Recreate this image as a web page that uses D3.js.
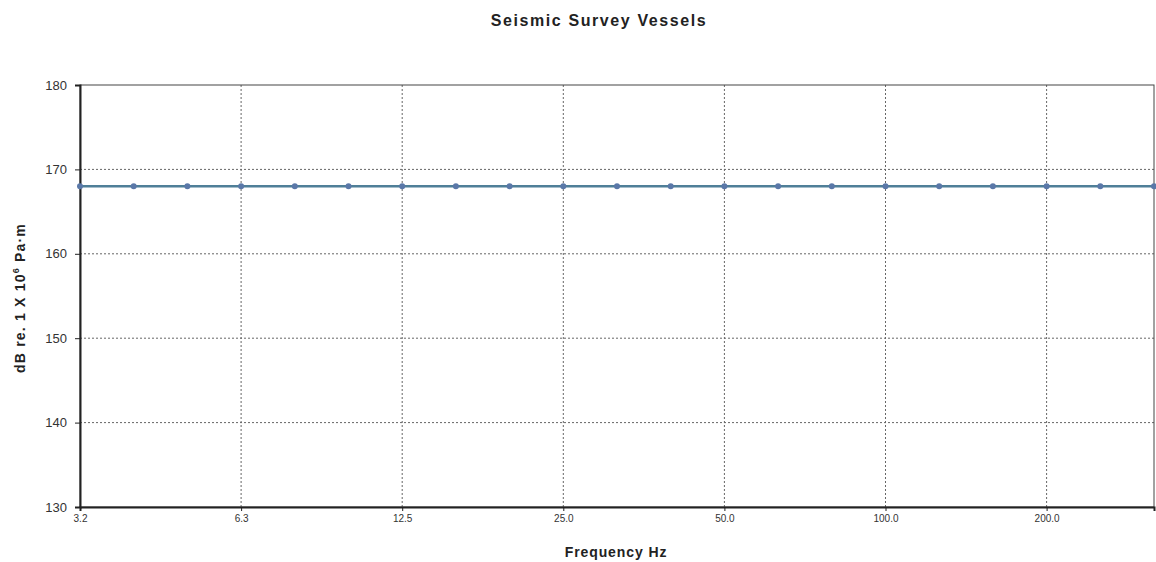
<!DOCTYPE html>
<html>
<head>
<meta charset="utf-8">
<script src="https://cdn.jsdelivr.net/npm/d3@7"></script>
<style>
  body { margin: 0; background: #fff; }
  text { font-family: Arial, "Liberation Sans", sans-serif; }
</style>
</head>
<body>
<svg id="chart"></svg>
<script>
const width = 1156, height = 562;
const margin = {left: 80, top: 85, right: 2, bottom: 55};

// 1/3 octave band centre frequencies (Hz)
const bands = ["3.2","4","5","6.3","8","10","12.5","16","20","25","31.5","40","50","63","80","100","125","160","200","250","315"];
// source level per band, dB
const levels = [168,168,168,168,168,168,168,168,168,168,168,168,168,168,168,168,168,168,168,168,168];
// labelled bands on the x axis
const xTicks = ["3.2","6.3","12.5","25","50","100","200"];
const xTickLabels = ["3.2","6.3","12.5","25.0","50.0","100.0","200.0"];
const yTicks = [130,140,150,160,170,180];

const svg = d3.select("#chart").attr("width", width).attr("height", height);

const x = d3.scalePoint().domain(bands).range([margin.left, width - margin.right]);
const y = d3.scaleLinear().domain([130, 180]).range([height - margin.bottom, margin.top]);

// grid
svg.append("g")
  .selectAll("line")
  .data(yTicks.slice(1, -1))
  .join("line")
  .attr("x1", margin.left).attr("x2", width - margin.right)
  .attr("y1", d => y(d)).attr("y2", d => y(d))
  .attr("stroke", "#666").attr("stroke-width", 1).attr("stroke-dasharray", "2,2");

svg.append("g")
  .selectAll("line")
  .data(xTicks.slice(1))
  .join("line")
  .attr("x1", d => x(d)).attr("x2", d => x(d))
  .attr("y1", margin.top).attr("y2", height - margin.bottom)
  .attr("stroke", "#666").attr("stroke-width", 1).attr("stroke-dasharray", "2,2");

// frame
svg.append("rect")
  .attr("x", margin.left).attr("y", margin.top)
  .attr("width", width - margin.right - margin.left)
  .attr("height", height - margin.bottom - margin.top)
  .attr("fill", "none").attr("stroke", "#444").attr("stroke-width", 1);

// y axis
const yAxis = svg.append("g")
  .attr("transform", `translate(${margin.left},0)`)
  .call(d3.axisLeft(y).tickValues(yTicks).tickSize(5).tickPadding(8));
yAxis.select(".domain").attr("stroke", "#222").attr("stroke-width", 2);
yAxis.selectAll(".tick line").attr("stroke", "#222");
yAxis.selectAll("text").attr("font-size", 13).attr("fill", "#333");

// x axis
const xAxis = svg.append("g")
  .attr("transform", `translate(0,${height - margin.bottom})`)
  .call(d3.axisBottom(x).tickValues(xTicks).tickSize(4).tickPadding(4)
    .tickFormat((d, i) => xTickLabels[i]));
xAxis.select(".domain").attr("stroke", "#222").attr("stroke-width", 2);
xAxis.selectAll(".tick line").attr("stroke", "#222");
xAxis.selectAll("text").attr("font-size", 10).attr("fill", "#333");

// series
const line = d3.line().x((d, i) => x(bands[i])).y(d => y(d));
svg.append("path")
  .datum(levels)
  .attr("d", line)
  .attr("fill", "none").attr("stroke", "#4f7f98").attr("stroke-width", 2.5);

svg.append("g")
  .selectAll("circle")
  .data(levels)
  .join("circle")
  .attr("cx", (d, i) => x(bands[i]))
  .attr("cy", d => y(d))
  .attr("r", 3)
  .attr("fill", "#5a78a8");

// titles
svg.append("text")
  .attr("x", 599).attr("y", 26)
  .attr("text-anchor", "middle")
  .attr("font-size", 16).attr("font-weight", "bold").attr("fill", "#222")
  .attr("letter-spacing", 1.6)
  .text("Seismic Survey Vessels");

svg.append("text")
  .attr("x", 616).attr("y", 557)
  .attr("text-anchor", "middle")
  .attr("font-size", 14).attr("font-weight", "bold").attr("fill", "#222")
  .attr("letter-spacing", 0.9)
  .text("Frequency Hz");

const yl = svg.append("text")
  .attr("transform", `translate(25,298) rotate(-90)`)
  .attr("text-anchor", "middle")
  .attr("font-size", 14).attr("font-weight", "bold").attr("fill", "#222")
  .attr("letter-spacing", 1.2);
yl.append("tspan").text("dB re. 1 X 10");
yl.append("tspan").attr("font-size", 9).attr("dy", -6).text("6");
yl.append("tspan").attr("dy", 6).text(" Pa·m");
</script>
</body>
</html>
